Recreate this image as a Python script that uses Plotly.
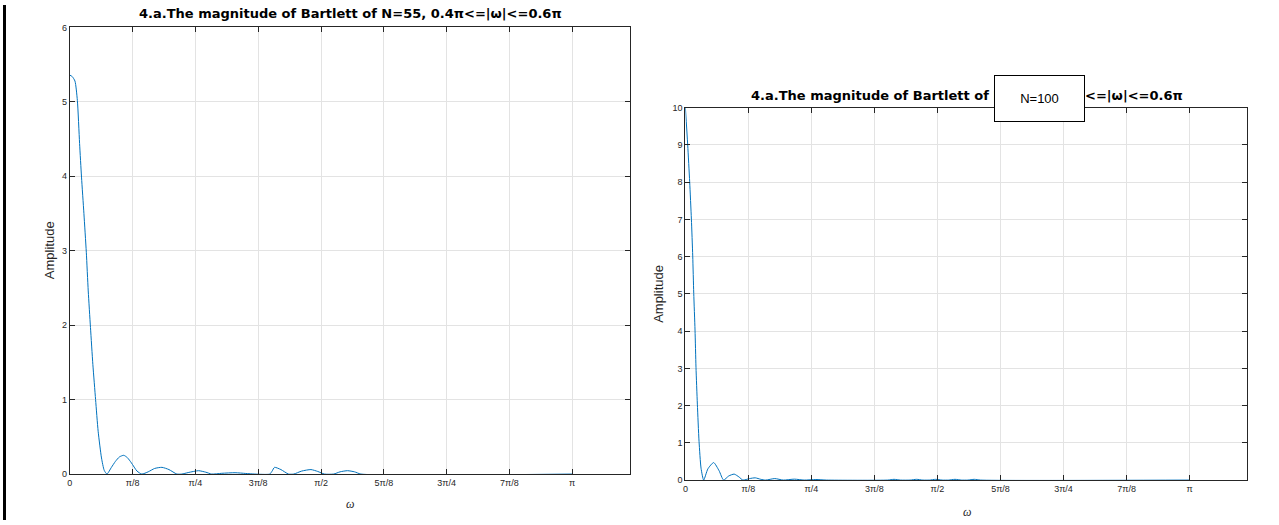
import numpy as np
import plotly.graph_objects as go

PI = np.pi

# ---- data ----
w_left = [0.00, 0.015, 0.032, 0.047, 0.061, 0.073, 0.088, 0.103, 0.115, 0.129, 0.144, 0.161,
          0.177, 0.198, 0.215, 0.232, 0.26, 0.285, 0.31, 0.337, 0.36, 0.385, 0.42, 0.45,
          0.49, 0.53, 0.576, 0.62, 0.669, 0.70, 0.74, 0.805, 0.85, 0.887, 0.95, 1.033,
          1.10, 1.157, 1.25, 1.265, 1.28, 1.32, 1.367, 1.40, 1.45, 1.508, 1.55, 1.592,
          1.65, 1.69, 1.737, 1.78, 1.82, PI]
amp_left = [5.36, 5.34, 5.28, 5.02, 4.44, 3.99, 3.50, 2.98, 2.46, 1.97, 1.47, 1.00,
            0.575, 0.216, 0.05, 0.0, 0.09, 0.17, 0.23, 0.252, 0.22, 0.15, 0.04, 0.0,
            0.03, 0.075, 0.09, 0.06, 0.0, 0.0, 0.02, 0.045, 0.025, 0.0, 0.01, 0.018,
            0.008, 0.0, 0.0, 0.04, 0.09, 0.06, 0.0, 0.0, 0.04, 0.06, 0.035, 0.0,
            0.0, 0.03, 0.045, 0.03, 0.0, 0.0]

w_right = [0.0, 0.0144, 0.0267, 0.0373, 0.0457, 0.052, 0.060, 0.066, 0.0745, 0.085, 0.0975,
           0.114, 0.14, 0.176, 0.21, 0.238, 0.27, 0.304, 0.335, 0.358, 0.40, 0.435, 0.47,
           0.50, 0.557, 0.61, 0.679, 0.74, 0.813, 0.88, 1.26, 1.30, 1.34, 1.40, 1.44, 1.48,
           1.52, 1.56, 1.60, 1.64, 1.68, 1.72, 1.76, 1.80, 1.84, PI]
amp_right = [10.0, 9.0, 8.01, 7.01, 6.02, 5.02, 4.03, 3.03, 2.04, 1.04, 0.32,
             0.0, 0.30, 0.47, 0.25, 0.0, 0.11, 0.16, 0.08, 0.0, 0.04, 0.06, 0.02,
             0.0, 0.04, 0.0, 0.025, 0.0, 0.015, 0.0, 0.0, 0.02, 0.0, 0.0, 0.02, 0.0,
             0.0, 0.02, 0.0, 0.0, 0.02, 0.0, 0.0, 0.02, 0.0, 0.0]

x_tickvals = [0, PI/8, PI/4, 3*PI/8, PI/2, 5*PI/8, 3*PI/4, 7*PI/8, PI]
x_ticktext = ["0", "π/8", "π/4", "3π/8", "π/2", "5π/8", "3π/4", "7π/8", "π"]
x_range = [0, 3.5]

title_left = "4.a.The magnitude of Bartlett of N=55, 0.4π<=|ω|<=0.6π"
title_right = "4.a.The magnitude of Bartlett of N=100, 0.4π<=|ω|<=0.6π"
box_text = "N=100"

W, H = 1279, 525
def px(x): return x / W
def py(y):
    yf = (y - 5.6) / 0.9775
    return min(1.0, max(0.0, 1 - yf / H))

LINE = "#0072BD"
AX = "#262626"
GRID = "#e3e3e3"

fig = go.Figure()
fig.add_trace(go.Scatter(x=w_left, y=amp_left, mode="lines", xaxis="x", yaxis="y",
                         line=dict(color=LINE, width=1, shape="spline", smoothing=0.6),
                         showlegend=False, hoverinfo="skip"))
fig.add_trace(go.Scatter(x=w_right, y=amp_right, mode="lines", xaxis="x2", yaxis="y2",
                         line=dict(color=LINE, width=1, shape="spline", smoothing=0.6),
                         showlegend=False, hoverinfo="skip"))

def xax(domain, anchor):
    return dict(domain=domain, anchor=anchor, range=x_range, tickvals=x_tickvals,
                ticktext=x_ticktext, ticks="inside", ticklen=5, tickcolor=AX,
                showline=True, linecolor=AX, linewidth=1, mirror="ticks",
                showgrid=True, gridcolor=GRID, gridwidth=1, zeroline=False,
                tickfont=dict(family="Liberation Sans", size=9, color=AX))

def yax(domain, anchor, rng, dt):
    return dict(domain=domain, anchor=anchor, range=rng, dtick=dt,
                ticks="inside", ticklen=5, tickcolor=AX,
                showline=True, linecolor=AX, linewidth=1, mirror="ticks",
                showgrid=True, gridcolor=GRID, gridwidth=1, zeroline=False,
                tickfont=dict(family="Liberation Sans", size=9, color=AX))

fig.update_layout(
    width=W, height=H, margin=dict(l=0, r=0, t=0, b=0),
    paper_bgcolor="white", plot_bgcolor="white",
    xaxis=xax([px(67), px(628)], "y"),
    yaxis=yax([py(473), py(28)], "x", [0, 6], 1),
    xaxis2=xax([px(684), px(1247)], "y2"),
    yaxis2=yax([py(479), py(108)], "x2", [0, 10], 1),
)

tfont = dict(family="DejaVu Sans", size=13, color="black")
ann = [
    dict(x=px(348), y=py(14), text="<b>" + title_left + "</b>", font=tfont),
    dict(x=px(966), y=py(96), text="<b>" + title_right + "</b>", font=tfont),
    dict(x=px(1038.5), y=py(98.5), text=box_text, width=87, height=43,
         bgcolor="white", bordercolor="black", borderwidth=1,
         font=dict(family="Liberation Sans", size=13, color="black")),
    dict(x=px(46), y=py(250), text="Amplitude", textangle=-90,
         font=dict(family="Liberation Sans", size=13, color=AX)),
    dict(x=px(657), y=py(293), text="Amplitude", textangle=-90,
         font=dict(family="Liberation Sans", size=13, color=AX)),
    dict(x=px(348), y=py(503), text="<i>ω</i>",
         font=dict(family="Liberation Serif", size=12, color=AX)),
    dict(x=px(966), y=py(511), text="<i>ω</i>",
         font=dict(family="Liberation Serif", size=12, color=AX)),
]
for a in ann:
    a.update(xref="paper", yref="paper", showarrow=False, xanchor="center", yanchor="middle")
fig.update_layout(annotations=ann)

fig.add_shape(type="rect", xref="paper", yref="paper", x0=0, x1=px(3), y0=0, y1=1,
              fillcolor="black", line=dict(width=0))

post = ("document.documentElement.style.margin='0';document.documentElement.style.padding='0';"
        "document.documentElement.style.overflow='hidden';"
        "document.body.style.margin='0';document.body.style.padding='0';"
        "document.body.style.overflow='hidden';")
fig.write_html("out.html", config={"displayModeBar": False}, post_script=post)
